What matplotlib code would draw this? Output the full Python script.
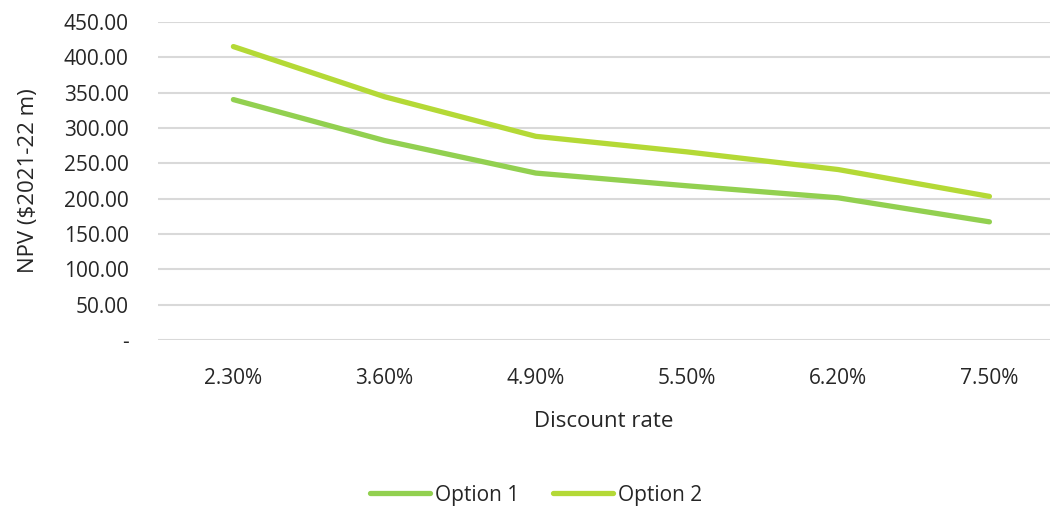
import matplotlib
matplotlib.use('Agg')
import matplotlib.pyplot as plt
from matplotlib.ticker import FuncFormatter

rates = ['2.30%', '3.60%', '4.90%', '5.50%', '6.20%', '7.50%']
option1 = [340, 282, 236, 218, 201, 167]
option2 = [415, 344, 288, 266, 241, 203]

plt.rcParams['font.family'] = ['Open Sans', 'DejaVu Sans']

fig = plt.figure(figsize=(10.52, 5.08), dpi=100)
ax = fig.add_axes([0.150, 0.331, 0.848, 0.626])

x = list(range(len(rates)))
ax.plot(x, option1, color='#92D050', lw=3.8, solid_capstyle='round', label='Option 1')
ax.plot(x, option2, color='#B4D936', lw=3.8, solid_capstyle='round', label='Option 2')

ax.set_xlim(-0.5, 5.4)
ax.set_ylim(0, 450)
ax.set_yticks(range(0, 451, 50))
ax.yaxis.set_major_formatter(FuncFormatter(lambda v, p: '-' if v == 0 else f'{v:.2f}'))
ax.set_xticks(x)
ax.set_xticklabels(rates)
ax.tick_params(length=0, labelsize=15, colors='#262626')
ax.tick_params(axis='x', pad=20)
ax.tick_params(axis='y', pad=21)
ax.grid(axis='y', color='#D9D9D9', lw=1.5)
ax.set_axisbelow(True)
for s in ax.spines.values():
    s.set_visible(False)

ax.set_xlabel('Discount rate', fontsize=16, color='#262626', labelpad=16)
ax.set_ylabel(r'NPV (\$2021-22 m)', fontsize=16, color='#262626', labelpad=10)
ax.yaxis.set_label_coords(-0.133, 0.5)

fig.legend(loc='center', bbox_to_anchor=(536 / 1052, 1 - 495 / 508), ncol=2,
           frameon=False, fontsize=15, handlelength=2.9, handletextpad=0.25,
           columnspacing=1.6, labelcolor='#262626')

fig.savefig('out.png', dpi=100)
